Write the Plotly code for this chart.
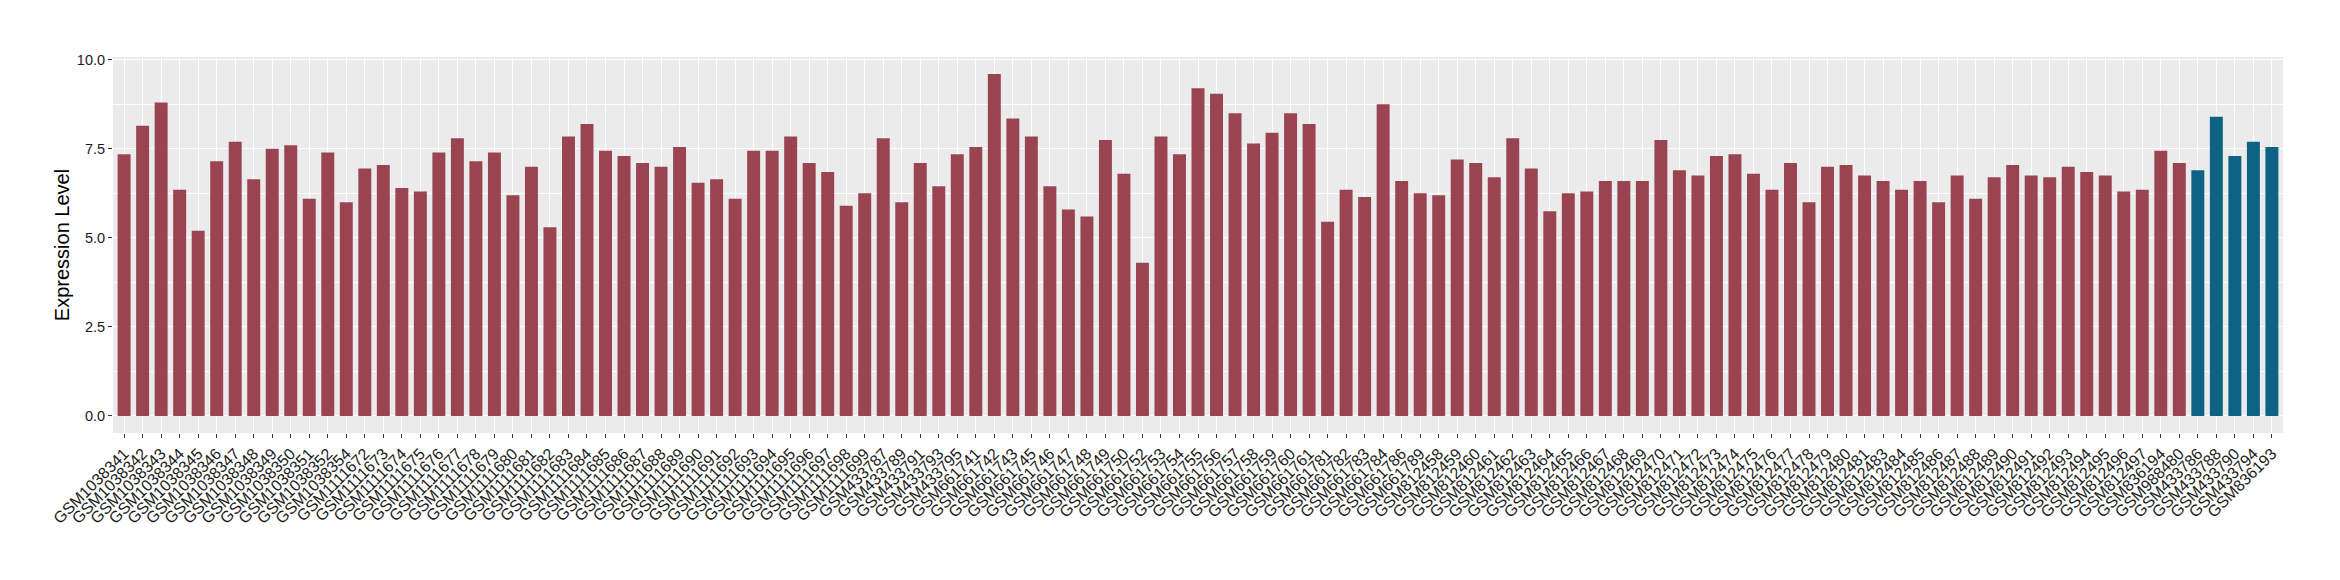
import plotly.graph_objects as go

samples = (
    ["GSM10383%02d" % n for n in range(41, 53)] + ["GSM1038354"]
    + ["GSM11116%02d" % n for n in range(72, 100)]
    + ["GSM433787", "GSM433789", "GSM433791", "GSM433793", "GSM433795"]
    + ["GSM661741", "GSM661742", "GSM661743", "GSM661745", "GSM661746", "GSM661747",
       "GSM661748", "GSM661749", "GSM661750", "GSM661752", "GSM661753", "GSM661754",
       "GSM661755", "GSM661756", "GSM661757", "GSM661758", "GSM661759", "GSM661760",
       "GSM661761"]
    + ["GSM661781", "GSM661782", "GSM661783", "GSM661784", "GSM661786", "GSM661789"]
    + ["GSM8124%02d" % n for n in range(58, 98) if n != 82]
    + ["GSM836194", "GSM988480"]
)
group_b = ["GSM433786", "GSM433788", "GSM433790", "GSM433794", "GSM836193"]

values_a = [
    7.35, 8.15, 8.8, 6.35, 5.2, 7.15, 7.7, 6.65, 7.5, 7.6, 6.1, 7.4, 6.0,
    6.95, 7.05, 6.4, 6.3, 7.4, 7.8, 7.15, 7.4, 6.2, 7.0, 5.3, 7.85, 8.2, 7.45, 7.3,
    7.1, 7.0, 7.55, 6.55, 6.65, 6.1, 7.45, 7.45, 7.85, 7.1, 6.85, 5.9, 6.25,
    7.8, 6.0, 7.1, 6.45, 7.35,
    7.55, 9.6, 8.35, 7.85, 6.45, 5.8, 5.6, 7.75, 6.8, 4.3, 7.85, 7.35, 9.2, 9.05,
    8.5, 7.65, 7.95, 8.5, 8.2,
    5.45, 6.35, 6.15, 8.75, 6.6, 6.25,
    6.2, 7.2, 7.1, 6.7, 7.8, 6.95, 5.75, 6.25, 6.3, 6.6, 6.6, 6.6, 7.75, 6.9,
    6.75, 7.3, 7.35, 6.8, 6.35, 7.1, 6.0, 7.0, 7.05, 6.75, 6.6, 6.35, 6.6, 6.0,
    6.75, 6.1, 6.7, 7.05, 6.75, 6.7, 7.0, 6.85, 6.75, 6.3, 6.35,
    7.45, 7.1,
]
values_b = [6.9, 8.4, 7.3, 7.7, 7.55]

categories = samples + group_b
y_ticks = [0, 2.5, 5, 7.5, 10]

fig = go.Figure()
fig.add_trace(go.Bar(x=samples, y=values_a, marker_color="#9A4452",
                     marker_line_width=0, width=0.7, showlegend=False))
fig.add_trace(go.Bar(x=group_b, y=values_b, marker_color="#0E6283",
                     marker_line_width=0, width=0.7, showlegend=False))

fig.update_layout(
    width=2340, height=580,
    margin=dict(l=105, r=65, t=49, b=155, autoexpand=False),
    paper_bgcolor="white", plot_bgcolor="#EBEBEB",
    font=dict(family="Liberation Sans, Arial, sans-serif", color="#1a1a1a"),
    bargap=0.3,
)
fig.update_xaxes(
    type="category", categoryorder="array", categoryarray=categories,
    tickmode="array", tickvals=categories, ticktext=categories,
    range=[-0.6, len(categories) - 0.4], automargin=False,
    tickangle=-45, tickfont=dict(size=16, color="#1a1a1a"),
    showgrid=True, gridcolor="white", gridwidth=1.2,
    ticks="outside", ticklen=4, tickcolor="#333333", tickwidth=1,
    showline=False, zeroline=False,
)
fig.update_yaxes(
    range=[-0.48, 10.08], tickvals=y_ticks, tickformat=".1f", automargin=False,
    tickfont=dict(size=14.5, color="#1a1a1a"),
    title=dict(text="Expression Level", font=dict(size=20, color="black"), standoff=1),
    showgrid=True, gridcolor="white", gridwidth=1.2,
    minor=dict(tickvals=[1.25, 3.75, 6.25, 8.75], showgrid=True, gridcolor="white", gridwidth=0.6),
    ticks="outside", ticklen=4, tickcolor="#333333", tickwidth=1,
    zeroline=False, showline=False,
)

fig.write_html("out.html")
